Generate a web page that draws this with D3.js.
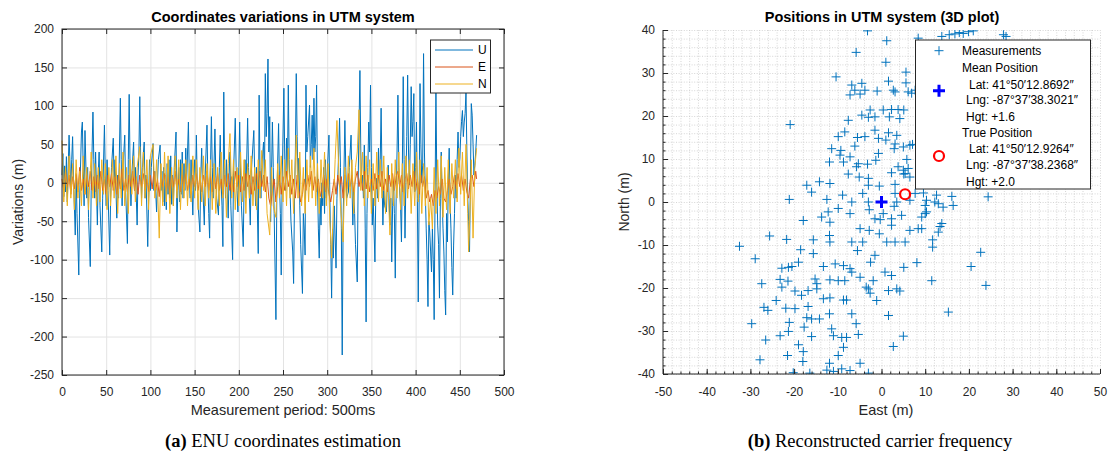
<!DOCTYPE html>
<html>
<head>
<meta charset="utf-8">
<script src="https://cdn.jsdelivr.net/npm/d3@7"></script>
<style>
  body { margin: 0; background: #fff; }
  svg text { font-family: "Liberation Sans", Arial, Helvetica, sans-serif; fill: #262626; }
  .tick text { font-size: 12px; }
  .caption { font-family: "Liberation Serif", "Times New Roman", serif !important; font-size: 18.5px; fill: #000 !important; }
</style>
</head>
<body>
<div id="main"></div>
<script>
// ---------- data ----------
// left panel: [measurement index, variation in m]
const seriesU = [[0,10],[1,38],[2,-18],[3,22],[4,-12],[5,34],[6,-25],[8,62],[10,-10],[11,30],[12,60],[13,5],[15,-68],[16,10],[17,-40],[19,-120],[20,-20],[22,66],[23,79],[24,20],[25,-30],[26,68],[28,-20],[29,20],[30,-45],[32,-109],[33,-10],[35,92],[36,30],[37,-20],[38,40],[40,-55],[41,10],[42,40],[43,-30],[45,-90],[46,-20],[48,75],[49,10],[50,-30],[51,30],[52,-10],[54,-94],[55,-20],[56,20],[58,58],[59,0],[60,30],[62,-46],[63,10],[64,-20],[66,110],[67,30],[68,-30],[69,20],[71,62],[72,-10],[74,-79],[75,30],[76,115],[77,20],[78,-30],[79,10],[81,53],[82,-10],[83,20],[85,-55],[86,10],[87,40],[88,112],[89,30],[90,-20],[91,20],[93,53],[94,-20],[95,10],[97,-83],[98,-20],[99,30],[100,-10],[101,20],[103,51],[104,-10],[105,15],[107,-38],[108,0],[109,30],[111,49],[112,-10],[113,15],[114,-25],[115,20],[116,-30],[117,10],[118,-35],[119,25],[120,-15],[121,30],[122,-20],[123,35],[124,-28],[125,10],[126,-30],[127,20],[129,66],[130,-64],[131,-10],[132,20],[133,-25],[134,30],[135,-15],[136,40],[137,-20],[138,25],[139,-10],[140,45],[141,0],[143,79],[144,10],[145,-20],[146,30],[147,-10],[148,-42],[149,10],[150,30],[151,-10],[152,62],[153,0],[154,-30],[156,-64],[157,10],[158,45],[159,0],[161,-55],[162,10],[164,75],[165,0],[166,-40],[167,-72],[168,20],[169,86],[170,20],[171,-20],[173,70],[174,10],[175,-20],[177,-42],[178,20],[179,62],[180,0],[181,-30],[182,-83],[183,118],[184,20],[185,-20],[186,30],[188,-46],[189,10],[190,40],[191,-30],[193,-100],[194,10],[196,84],[197,20],[198,-10],[199,-38],[200,20],[201,79],[202,10],[203,-30],[205,-83],[206,0],[207,30],[208,-20],[210,84],[211,20],[212,-20],[213,-55],[214,10],[215,30],[217,68],[218,10],[219,-30],[220,20],[222,-92],[223,114],[224,10],[225,-20],[226,20],[228,53],[229,0],[230,142],[231,60],[232,90],[233,161],[234,40],[235,86],[236,-51],[237,10],[238,79],[239,20],[240,-40],[242,-178],[243,-20],[245,77],[246,0],[247,-40],[248,-120],[249,0],[251,123],[252,30],[253,-10],[254,58],[255,10],[256,127],[257,30],[258,-12],[259,-50],[261,-90],[262,-131],[263,-20],[264,40],[265,142],[266,60],[267,0],[268,32],[269,-30],[270,-80],[272,-144],[273,-40],[274,-60],[275,-94],[276,127],[277,40],[278,60],[280,101],[281,20],[282,50],[283,88],[284,30],[285,110],[286,40],[287,60],[288,127],[289,0],[290,-60],[291,-98],[292,-20],[293,-55],[294,0],[295,-30],[296,20],[297,-40],[298,30],[299,-20],[300,10],[302,62],[303,-20],[304,-80],[305,-150],[306,-60],[307,-98],[308,-30],[310,-111],[311,-20],[312,6],[313,40],[314,84],[315,20],[316,-60],[317,-224],[318,-50],[320,81],[321,20],[322,-20],[324,-12],[325,20],[327,62],[328,0],[329,-55],[330,-10],[331,-40],[332,-80],[334,-129],[335,0],[337,146],[338,40],[339,0],[340,10],[341,-20],[342,49],[343,-60],[344,-181],[345,-40],[346,20],[347,79],[348,40],[349,127],[350,20],[351,-55],[352,-20],[354,-103],[355,-10],[356,6],[357,-20],[358,45],[359,0],[360,30],[361,97],[362,10],[363,-55],[364,-10],[365,-30],[367,-38],[368,0],[369,23],[370,-20],[371,-55],[372,-20],[373,-103],[374,-30],[375,1],[376,-40],[377,-124],[378,-20],[379,40],[380,114],[381,20],[382,-12],[383,-30],[384,-77],[385,20],[386,138],[387,30],[388,-72],[389,0],[390,60],[391,140],[392,40],[393,-3],[394,50],[395,125],[396,60],[397,80],[398,116],[399,-12],[400,20],[401,79],[402,-20],[403,-155],[404,-20],[405,129],[406,50],[407,0],[408,23],[409,168],[410,40],[411,-12],[412,-60],[413,-100],[414,-161],[415,-50],[416,-64],[417,-90],[418,-116],[419,-60],[420,-100],[421,-178],[422,-20],[423,123],[424,0],[425,-55],[426,-80],[427,-150],[428,-20],[429,40],[430,-20],[431,-59],[432,-90],[433,-140],[434,-172],[435,-40],[436,-77],[437,0],[438,45],[439,-25],[440,-60],[441,-110],[442,-146],[443,-81],[444,-40],[445,10],[446,-20],[447,30],[448,66],[449,20],[450,32],[451,60],[452,80],[453,94],[454,60],[455,79],[456,90],[457,118],[458,40],[459,-20],[460,-50],[461,-90],[462,0],[463,103],[464,88],[465,50],[466,10],[467,23],[468,40],[469,62]];

const seriesE = [[0,5],[2,-10],[4,15],[6,-5],[8,10],[10,-15],[12,8],[14,-8],[16,12],[18,-12],[20,20],[22,-10],[24,5],[26,-15],[28,10],[30,-5],[32,15],[34,-10],[36,8],[38,-12],[40,10],[42,-8],[44,15],[46,-10],[48,5],[50,-15],[52,10],[54,-5],[56,12],[58,-10],[60,8],[62,-15],[64,10],[66,-8],[68,18],[70,-10],[72,5],[74,-12],[76,10],[78,-5],[80,15],[82,-10],[84,8],[86,-15],[88,10],[90,-5],[92,12],[94,-10],[96,5],[98,-12],[100,10],[102,-8],[104,15],[106,-10],[108,5],[110,-18],[112,10],[114,-5],[116,12],[118,-10],[120,8],[122,-15],[124,10],[126,-5],[128,15],[130,-10],[132,5],[134,-12],[136,10],[138,-8],[140,12],[142,-10],[144,5],[146,-15],[148,10],[150,-5],[152,12],[154,-10],[156,8],[158,-12],[160,10],[162,-5],[164,15],[166,-10],[168,8],[170,-12],[172,10],[174,-8],[176,12],[178,-10],[180,5],[182,-15],[184,10],[186,-5],[188,12],[190,-10],[192,8],[194,-12],[196,15],[198,-5],[200,10],[202,-12],[204,8],[206,-10],[208,12],[210,-5],[212,10],[214,-15],[216,8],[218,-10],[220,12],[222,-8],[224,15],[226,-5],[228,10],[230,-12],[232,8],[234,-20],[236,-30],[238,-10],[240,5],[242,-25],[244,-5],[246,10],[248,-15],[250,8],[252,-10],[254,15],[256,-5],[258,10],[260,-15],[262,5],[264,-20],[266,10],[268,-10],[270,-25],[272,-15],[274,5],[276,-10],[278,10],[280,-5],[282,15],[284,-10],[286,8],[288,-12],[290,5],[292,-18],[294,-8],[296,10],[298,-12],[300,5],[302,-15],[304,-25],[306,-10],[308,5],[310,-15],[312,10],[314,-5],[316,8],[318,-20],[320,10],[322,-8],[324,12],[326,-5],[328,10],[330,-12],[332,5],[334,15],[336,-5],[338,10],[340,-10],[342,15],[344,-8],[346,10],[348,-12],[350,5],[352,-10],[354,12],[356,-8],[358,10],[360,-5],[362,15],[364,-10],[366,5],[368,-12],[370,10],[372,-5],[374,12],[376,-10],[378,8],[380,15],[382,-5],[384,10],[386,-12],[388,5],[390,12],[392,-8],[394,10],[396,-5],[398,15],[400,-10],[402,5],[404,-15],[406,10],[408,-5],[410,8],[412,-20],[414,-10],[416,-25],[418,-15],[420,-30],[422,-10],[424,-20],[426,-5],[428,-15],[430,5],[432,-20],[434,-25],[436,-10],[438,5],[440,-15],[442,-5],[444,10],[446,-8],[448,12],[450,-5],[452,10],[454,-10],[456,5],[458,-12],[460,-20],[462,5],[464,10],[466,-5],[468,15],[469,5]];

const seriesN = [[0,55],[2,-25],[4,20],[6,-30],[8,35],[10,-20],[12,25],[14,-35],[16,30],[18,-20],[20,15],[22,-30],[24,35],[26,-15],[28,20],[30,-35],[33,40],[35,-20],[37,25],[39,-30],[41,20],[43,-25],[45,30],[47,-15],[49,25],[51,-35],[53,20],[55,-30],[57,30],[59,-20],[61,35],[63,-40],[65,25],[67,-20],[69,40],[71,-30],[73,20],[75,-40],[77,30],[79,-15],[81,35],[83,-25],[85,20],[88,47],[90,-30],[92,40],[94,-20],[96,30],[98,-35],[100,35],[103,50],[105,-20],[107,30],[110,-72],[112,25],[114,-30],[116,40],[118,-25],[120,35],[122,-40],[124,20],[126,-30],[128,35],[130,-20],[132,30],[134,-35],[136,25],[138,-20],[140,30],[142,-30],[144,25],[146,-25],[148,35],[150,-20],[152,30],[154,-35],[156,20],[158,-25],[160,35],[162,-30],[164,25],[166,-20],[168,30],[170,-35],[172,25],[174,-40],[176,20],[178,-30],[180,40],[182,-20],[184,30],[186,-45],[188,25],[190,64],[192,-20],[194,30],[196,-35],[198,20],[200,-30],[202,40],[204,-25],[206,30],[208,-40],[210,25],[212,-20],[214,35],[216,-30],[218,20],[220,-35],[222,30],[224,-20],[226,42],[228,-10],[230,30],[232,-40],[235,-68],[237,20],[239,-30],[242,-45],[244,25],[246,-20],[248,35],[250,-25],[252,30],[254,-30],[256,45],[258,-20],[260,30],[262,-40],[265,62],[267,-20],[269,40],[271,-30],[273,20],[275,-40],[277,30],[279,-25],[281,35],[283,-20],[285,45],[287,-30],[289,25],[291,-40],[293,30],[295,-20],[297,40],[299,-30],[301,25],[303,-50],[305,-98],[307,-30],[309,30],[311,81],[313,20],[315,-30],[318,-77],[320,20],[322,-30],[324,35],[326,-20],[328,30],[330,-40],[332,20],[334,40],[336,95],[338,-10],[340,40],[342,-30],[344,35],[346,-20],[348,30],[350,-40],[352,25],[354,-30],[356,40],[358,-25],[360,30],[362,-20],[364,35],[366,-40],[368,20],[371,-68],[373,25],[375,-30],[377,30],[379,-20],[381,40],[383,-35],[385,25],[387,-30],[389,35],[391,-20],[393,30],[395,-40],[397,25],[399,-30],[401,40],[403,-25],[405,30],[407,-40],[409,25],[411,-30],[413,20],[415,-55],[417,-20],[419,-60],[421,20],[423,-40],[425,30],[427,-30],[429,35],[431,-45],[433,20],[435,-35],[437,30],[439,-40],[441,25],[443,-20],[445,30],[447,-25],[449,45],[451,-15],[453,40],[455,-30],[457,50],[459,-40],[460,-90],[462,-20],[463,30],[465,-72],[467,20],[469,45]];

const seriesNames = ['U', 'E', 'N'];
const xTicksLeft = [0, 50, 100, 150, 200, 250, 300, 350, 400, 450, 500];
const yTicksLeft = [-250, -200, -150, -100, -50, 0, 50, 100, 150, 200];

// right panel: [east m, north m]
const measurements = [
  [-25.6,-7.9],[-21.7,-8.7],[-32.5,-10.3],[-28.9,-13.2],[-22.8,-15.4],[-21.3,-15.2],[-27.4,-19],[-23.2,-18],[-22.8,-19.8],[-21.4,-18.4],[-24.1,-22.9],[-26.9,-24.5],[-26,-25.2],[-21.9,-24.7],[-29.7,-28.3],[-21.1,-28],[-23.2,-31.1],[-26.5,-32.1],[-21.3,-30.1],[-27.8,-36.7],[-21.5,-35.7],
  [-3,0],[2.9,-1],[-2.8,-1.8],[-1.5,-3.9],[-0.3,-4.1],[2.3,-3.9],[4.6,-3.1],[2.3,-5.4],[-17.9,-4.3],[-11.8,-4.7],[-13.7,-3.5],[-7.2,-2.7],[-4.9,-6.2],[-2.8,-6.6],[-0.5,-7.4],[1.2,-9.3],[3.1,-9.3],[6.5,-6.6],[8.4,-6.2],[10,-2.7],[5.4,-9.3],[-15.6,-8.8],[-11.9,-7.8],[-11.8,-9.3],[-6.8,-9.3],[-4.3,-9.3],[-5.5,-11.3],[-18.5,-11.1],[-15.6,-12],[-1.5,-12.4],[-2.5,-14],[8.1,-14.1],[5.1,-15.2],[-19,-14],[-20.5,-15],[-13.3,-15],[-10.6,-14.4],[-8.7,-14.8],[-7.2,-15.5],[-6.8,-16.3],[-4.9,-17.5],[0.8,-16.3],[2.3,-17.1],[-1.9,-18.3],[-15.2,-17.9],[-14.8,-19],[-11.8,-18.1],[-9.9,-18.3],[-8.4,-18.3],[-3.5,-19.8],[-3,-20.2],[-2.6,-21.2],[1.6,-20.6],[3.5,-20.2],[4.2,-20.7],[-19.8,-20.7],[-18.3,-21.7],[-16.8,-20.6],[-14.8,-20.2],[-13.3,-22.5],[-11.8,-22.3],[-8.7,-22.8],[-8,-22.8],[-1.1,-22.9],[-16.8,-24.3],[-19.8,-24.8],[1.6,-26.4],[-6.8,-26],[-11.9,-26],[-17.1,-26.9],[-16,-27.2],[-14.2,-27.2],[-5.8,-28.3],[-17.7,-29.1],[-16,-31.3],[-11.4,-29.5],[-11,-31.1],[-9.1,-31.5],[-8,-31.5],[-5.3,-30.8],[5,-31.2],[2.7,-33.6],[-19,-33.2],[-17.9,-34.8],[-8.7,-33.8],[-9.9,-35.7],[-4.9,-37.5],[-11.9,-37.5],[-18,-37.1],[-12.5,-39.1],[-11,-39.4],[-9.1,-38.8],[-7.2,-39.2],[-16.4,-39.8],[-20.2,-39.7],[-3,-39.8],
  [-3.2,39.8],[1.2,37.5],[-5.8,34.8],[1,32.5],[5.6,30.2],[-10.4,29.1],[1.6,28.1],[5.6,27.7],[-6.8,27.2],[-4.5,27.6],[-6.1,26],[-3.8,26],[-1,25.8],[2.7,26],[3.1,25.6],[6.9,25.3],[-7.2,24.9],[-4.9,25.1],[-2.6,21.4],[0.4,21.4],[2.3,21.5],[3.8,21.5],[5.1,21.4],[-4.5,20.2],[-3,19.7],[-1.5,19.8],[-7.6,19],[1.8,19.8],[4.2,19.4],[-20.9,18],[-1.5,16.7],[-8.4,16.3],[1.6,16.1],[3.5,15.5],[-9.9,15.2],[-5.5,15],[-3.8,15.2],[-0.7,14.8],[1,14.4],[3.1,13.5],[-11.4,12.4],[-9.3,12],[-6.1,13],[2.9,12.4],[5,12.8],[7.1,13.4],[-9.5,10.9],[-7.2,10.5],[-0.7,11.3],[-11.9,9.3],[-8.7,9.3],[-5.3,8.9],[-3.2,8.8],[-1.3,9.7],[5.8,9.9],[-5.7,8.2],[3.8,8.2],[2.3,6.8],[5.1,6.5],[-7.6,6.5],[-5.1,5.8],[-3,5.5],[5,7.4],[6.5,5.8],[-14.2,4.7],[-3,3.9],[-0.5,3.7],[-17.1,3.9],[-11.8,4.3],[3.1,4.1],[-16,2.3],[-8.9,1.6],[-4.3,2],[3.1,2],[7.7,2],[9.6,2.1],[-21.1,0.6],[-12.5,0.6],[-6.8,0],[3.5,0],[6.5,0.4],[10.3,0.4],[-9.9,-1.5],[-12.2,-2.3],[0.4,-2.7],
  [8.4,38.1],[13.8,38.5],[15.5,38.9],[16.8,39.1],[17.8,39.4],[18.7,39.2],[19.9,39.6],[21,39.8],[27.9,38.9],[28.5,38.5],[7.7,26],[6.1,25.6],[6.5,13.2],[6.1,7.8],[5.4,6.6],[12.6,1.6],[16.1,1.3],[24.4,1.2],
  [10,-0.8],[12.2,0],[13,-0.4],[14.1,-1.2],[16.4,-0.8],[10.3,-2.3],[9.2,-3.5],[13.8,-5],[13.4,-5.7],[13,-7],[9.2,-6.2],[11.7,-8.8],[11.7,-10.5],[22.7,-11.7],[20.5,-15],[11.5,-18.3],[23.9,-19.4],[15.3,-25.6]
];
const meanPosition = [0, 0];
const truePosition = [5.4, 1.8];
const xTicksRight = [-50, -40, -30, -20, -10, 0, 10, 20, 30, 40, 50];
const yTicksRight = [-40, -30, -20, -10, 0, 10, 20, 30, 40];
const minorStep = 2;

const legendRight = [
  {text: 'Measurements', y: 50.7, x: 962},
  {text: 'Mean Position', y: 67.7, x: 962},
  {text: 'Lat: 41\u00B050\u203212.8692\u2033', y: 84.3, x: 969},
  {text: 'Lng: -87\u00B037\u203238.3021\u2033', y: 100, x: 966},
  {text: 'Hgt: +1.6', y: 116.7, x: 966},
  {text: 'True Position', y: 132.3, x: 962},
  {text: 'Lat: 41\u00B050\u203212.9264\u2033', y: 149, x: 969},
  {text: 'Lng: -87\u00B037\u203238.2368\u2033', y: 165, x: 966},
  {text: 'Hgt: +2.0', y: 181.7, x: 966}
];

const colors = {U: '#0072BD', E: '#D95319', N: '#EDB120'};

// ---------- drawing ----------
const svg = d3.select('#main').append('svg')
  .attr('width', 1110)
  .attr('height', 457);

const plainNum = d => String(d);   // hyphen minus like the original

function styleAxis(g) {
  g.select('.domain').remove();
  g.selectAll('.tick line').attr('stroke', '#262626');
}

// ===== left panel =====
const xL = d3.scaleLinear().domain([0, 500]).range([62, 504]);
const yL = d3.scaleLinear().domain([-250, 200]).range([375, 29]);

// grid
svg.append('g')
  .attr('transform', 'translate(0,375)')
  .call(d3.axisBottom(xL).tickValues(xTicksLeft).tickSize(-346).tickFormat(''))
  .call(g => { g.select('.domain').remove(); g.selectAll('line').attr('stroke', '#e3e3e3'); });
svg.append('g')
  .attr('transform', 'translate(62,0)')
  .call(d3.axisLeft(yL).tickValues(yTicksLeft).tickSize(-442).tickFormat(''))
  .call(g => { g.select('.domain').remove(); g.selectAll('line').attr('stroke', '#e3e3e3'); });

const line = d3.line().x(d => xL(d[0])).y(d => yL(d[1]));
[['U', seriesU], ['E', seriesE], ['N', seriesN]].forEach(([name, s]) => {
  svg.append('path')
    .datum(s)
    .attr('d', line)
    .attr('fill', 'none')
    .attr('stroke', colors[name])
    .attr('stroke-width', 1)
    .attr('stroke-linejoin', 'round');
});

// axes with inward ticks on all four sides
svg.append('g').attr('transform', 'translate(0,375)')
  .call(d3.axisBottom(xL).tickValues(xTicksLeft).tickSizeInner(-5).tickSizeOuter(0).tickFormat(plainNum))
  .call(styleAxis)
  .call(g => g.selectAll('text').attr('y', 17).attr('dy', '0.32em'));
svg.append('g').attr('transform', 'translate(0,29)')
  .call(d3.axisTop(xL).tickValues(xTicksLeft).tickSizeInner(-5).tickSizeOuter(0).tickFormat(''))
  .call(styleAxis);
svg.append('g').attr('transform', 'translate(62,0)')
  .call(d3.axisLeft(yL).tickValues(yTicksLeft).tickSizeInner(-5).tickSizeOuter(0).tickPadding(8).tickFormat(plainNum))
  .call(styleAxis);
svg.append('g').attr('transform', 'translate(504,0)')
  .call(d3.axisRight(yL).tickValues(yTicksLeft).tickSizeInner(-5).tickSizeOuter(0).tickFormat(''))
  .call(styleAxis);
svg.append('rect')
  .attr('x', 62).attr('y', 29).attr('width', 442).attr('height', 346)
  .attr('fill', 'none').attr('stroke', '#262626').attr('stroke-width', 1);

svg.append('text').attr('x', 283).attr('y', 22).attr('text-anchor', 'middle')
  .style('font-size', '14.5px').style('font-weight', 'bold').style('fill', '#000')
  .text('Coordinates variations in UTM system');
svg.append('text').attr('x', 283).attr('y', 415).attr('text-anchor', 'middle')
  .style('font-size', '14.5px')
  .text('Measurement period: 500ms');
svg.append('text').attr('transform', 'translate(23,202) rotate(-90)').attr('text-anchor', 'middle')
  .style('font-size', '14px')
  .text('Variations (m)');

// legend
const legL = svg.append('g');
legL.append('rect').attr('x', 430.5).attr('y', 40).attr('width', 60).attr('height', 53)
  .attr('fill', '#fff').attr('stroke', '#262626').attr('stroke-width', 1);
seriesNames.forEach((name, i) => {
  const y = 50 + i * 17;
  legL.append('line').attr('x1', 435).attr('x2', 473).attr('y1', y).attr('y2', y)
    .attr('stroke', colors[name]).attr('stroke-width', 1);
  legL.append('text').attr('x', 478).attr('y', y).attr('dy', '0.35em')
    .style('font-size', '12px').style('fill', '#000').text(name);
});

// ===== right panel =====
const xR = d3.scaleLinear().domain([-50, 50]).range([663, 1100]);
const yR = d3.scaleLinear().domain([-40, 40]).range([374, 30]);
const minorX = d3.range(-50, 50.01, minorStep);
const minorY = d3.range(-40, 40.01, minorStep);

svg.append('g').attr('transform', 'translate(0,374)')
  .call(d3.axisBottom(xR).tickValues(minorX).tickSize(-344).tickFormat(''))
  .call(g => { g.select('.domain').remove(); g.selectAll('line').attr('stroke', '#c4c4c4').attr('stroke-dasharray', '1,1.6').attr('stroke-width', 0.7); });
svg.append('g').attr('transform', 'translate(663,0)')
  .call(d3.axisLeft(yR).tickValues(minorY).tickSize(-437).tickFormat(''))
  .call(g => { g.select('.domain').remove(); g.selectAll('line').attr('stroke', '#c4c4c4').attr('stroke-dasharray', '1,1.6').attr('stroke-width', 0.7); });

svg.append('clipPath').attr('id', 'clipR')
  .append('rect').attr('x', 663).attr('y', 30).attr('width', 437).attr('height', 344);

const pts = svg.append('g').attr('clip-path', 'url(#clipR)');
pts.selectAll('path.meas')
  .data(measurements)
  .join('path')
  .attr('class', 'meas')
  .attr('d', d => {
    const px = xR(d[0]), py = yR(d[1]);
    return `M${px - 4.5},${py}H${px + 4.5}M${px},${py - 4.5}V${py + 4.5}`;
  })
  .attr('stroke', '#0072BD')
  .attr('stroke-width', 1)
  .attr('fill', 'none');

pts.append('path')
  .attr('d', () => {
    const px = xR(meanPosition[0]), py = yR(meanPosition[1]);
    return `M${px - 6},${py}H${px + 6}M${px},${py - 6}V${py + 6}`;
  })
  .attr('stroke', '#0000FF').attr('stroke-width', 3).attr('fill', 'none');
pts.append('circle')
  .attr('cx', xR(truePosition[0])).attr('cy', yR(truePosition[1])).attr('r', 5)
  .attr('stroke', '#FF0000').attr('stroke-width', 2.2).attr('fill', 'none');

// axes (left + bottom only)
svg.append('g').attr('transform', 'translate(0,374)')
  .call(d3.axisBottom(xR).tickValues(minorX).tickSizeInner(-2.5).tickSizeOuter(0).tickFormat(''))
  .call(styleAxis);
svg.append('g').attr('transform', 'translate(663,0)')
  .call(d3.axisLeft(yR).tickValues(minorY).tickSizeInner(-2.5).tickSizeOuter(0).tickFormat(''))
  .call(styleAxis);
svg.append('g').attr('transform', 'translate(0,374)')
  .call(d3.axisBottom(xR).tickValues(xTicksRight).tickSizeInner(-5).tickSizeOuter(0).tickFormat(plainNum))
  .call(styleAxis)
  .call(g => g.selectAll('text').attr('y', 18).attr('dy', '0.32em'));
svg.append('g').attr('transform', 'translate(663,0)')
  .call(d3.axisLeft(yR).tickValues(yTicksRight).tickSizeInner(-5).tickSizeOuter(0).tickPadding(8).tickFormat(plainNum))
  .call(styleAxis);
svg.append('line').attr('x1', 663).attr('x2', 1100).attr('y1', 374).attr('y2', 374).attr('stroke', '#262626');
svg.append('line').attr('x1', 663).attr('x2', 663).attr('y1', 30).attr('y2', 374).attr('stroke', '#262626');

svg.append('text').attr('x', 882).attr('y', 22).attr('text-anchor', 'middle')
  .style('font-size', '14.5px').style('font-weight', 'bold').style('fill', '#000')
  .text('Positions in UTM system (3D plot)');
svg.append('text').attr('x', 886).attr('y', 415).attr('text-anchor', 'middle')
  .style('font-size', '14.5px')
  .text('East (m)');
svg.append('text').attr('transform', 'translate(629,202) rotate(-90)').attr('text-anchor', 'middle')
  .style('font-size', '14px')
  .text('North (m)');

// legend
const legR = svg.append('g');
legR.append('rect').attr('x', 915.5).attr('y', 40).attr('width', 175).attr('height', 149)
  .attr('fill', '#fff').attr('stroke', '#262626').attr('stroke-width', 1);
legR.append('path').attr('d', 'M934.5,50.7H943.5M939,46.2V55.2').attr('stroke', '#0072BD').attr('stroke-width', 1);
legR.append('path').attr('d', 'M933,90.7H945M939,84.7V96.7').attr('stroke', '#0000FF').attr('stroke-width', 3);
legR.append('circle').attr('cx', 939).attr('cy', 156).attr('r', 5)
  .attr('stroke', '#FF0000').attr('stroke-width', 2.2).attr('fill', 'none');
legR.selectAll('text.leg')
  .data(legendRight)
  .join('text')
  .attr('class', 'leg')
  .attr('x', d => d.x).attr('y', d => d.y).attr('dy', '0.35em')
  .style('font-size', '12px').style('fill', '#000')
  .text(d => d.text);

// ===== captions =====
const capA = svg.append('text').attr('class', 'caption').attr('x', 283).attr('y', 447).attr('text-anchor', 'middle');
capA.append('tspan').style('font-weight', 'bold').text('(a)');
capA.append('tspan').text(' ENU coordinates estimation');
const capB = svg.append('text').attr('class', 'caption').attr('x', 880).attr('y', 447).attr('text-anchor', 'middle');
capB.append('tspan').style('font-weight', 'bold').text('(b)');
capB.append('tspan').text(' Reconstructed carrier frequency');
</script>
</body>
</html>
